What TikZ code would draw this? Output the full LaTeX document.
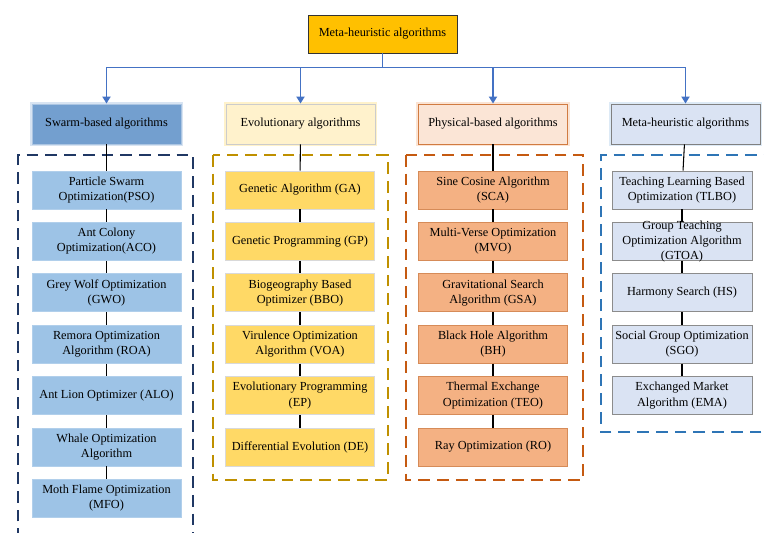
\documentclass[tikz,border=0pt]{standalone}
\usepackage{fontspec}
\setmainfont{Liberation Serif}
\usetikzlibrary{arrows.meta, positioning}
\definecolor{rootfill}{HTML}{FFC000}
\definecolor{busblue}{HTML}{4472C4}
\definecolor{swarmcat}{HTML}{739FCF}
\definecolor{swarmitem}{HTML}{9DC3E6}
\definecolor{swarmdash}{HTML}{203864}
\definecolor{evocat}{HTML}{FFF2CC}
\definecolor{evoitem}{HTML}{FFD966}
\definecolor{evodash}{HTML}{BF9000}
\definecolor{phycat}{HTML}{FBE5D6}
\definecolor{phyitem}{HTML}{F4B183}
\definecolor{phydash}{HTML}{C55A11}
\definecolor{metacat}{HTML}{DAE3F3}
\definecolor{metadash}{HTML}{2E75B6}
\tikzset{
  algbox/.style={rectangle, minimum width=4.47cm, minimum height=1.14cm,
                 align=center, inner sep=1pt, font=\fontsize{10.5}{13}\selectfont},
  rootbox/.style={algbox, fill=rootfill, draw=black!80, line width=0.8pt},
  catbox/.style={algbox, line width=0.8pt, minimum height=1.2cm,
                 preaction={draw=#1, line width=4pt, opacity=0.35}},
  swarmitembox/.style={algbox, fill=swarmitem, draw=swarmitem!80!white, line width=0.6pt},
  evoitembox/.style={algbox, fill=evoitem, draw=black!15, line width=0.6pt},
  phyitembox/.style={algbox, fill=phyitem, draw=phydash!70!white, line width=0.6pt},
  metaitembox/.style={algbox, fill=metacat, draw=black!45, line width=0.6pt,
                      minimum width=4.2cm},
  busarrow/.style={-{Triangle[length=6pt, width=7pt]}, busblue, line width=1.3pt},
  chainline/.style={black, line width=0.9pt},
  groupframe/.style={line width=1.5pt, dash pattern=on 10pt off 6pt},
}
\begin{document}
\begin{tikzpicture}[x=0.03cm, y=-0.03cm]
  \useasboundingbox (0,0) rectangle (764,532);
  % Wurzel
  \node[rootbox, minimum width=4.47cm] (root) at (382.5,34) {Meta-heuristic algorithms};
  % Gestrichelte Gruppen
  \draw[groupframe, swarmdash] (18,540) -- (18,155) -- (193,155) -- (193,540);
  \draw[groupframe, evodash] (213,155) rectangle (388,480);
  \draw[groupframe, phydash] (406,155) rectangle (583,480);
  \draw[groupframe, metadash] (780,432) -- (601,432) -- (601,155) -- (780,155);
  % Kategorien
  \node[catbox=swarmcat!80, fill=swarmcat, draw=swarmcat!60!white] (swarm) at (106.5,124) {Swarm-based algorithms};
  \node[catbox=evoitem, fill=evocat, draw=black!20] (evo) at (300.5,124) {Evolutionary algorithms};
  \node[catbox=phyitem, fill=phycat, draw=phydash!80!white] (phy) at (493,124) {Physical-based algorithms};
  \node[catbox=swarmitem, fill=metacat, draw=black!50] (meta) at (685.5,124) {Meta-heuristic algorithms};
  % Pfeile
  \foreach \c in {swarm, evo, phy, meta}
    \draw[busarrow] (root.south) -- ++(0,14) -| (\c.north);
  % Algorithmen
  \foreach \txt [count=\i] in {{Particle Swarm\\Optimization(PSO)}, {Ant Colony\\Optimization(ACO)},
      {Grey Wolf Optimization\\(GWO)}, {Remora Optimization\\Algorithm (ROA)},
      {Ant Lion Optimizer (ALO)}, {Whale Optimization\\Algorithm}, {Moth Flame Optimization\\(MFO)}}
    \node[swarmitembox] (swarm\i) at (106.5,{190+51.4*(\i-1)}) {\txt};
  \foreach \txt [count=\i] in {{Genetic Algorithm (GA)}, {Genetic Programming (GP)},
      {Biogeography Based\\Optimizer (BBO)}, {Virulence Optimization\\Algorithm (VOA)},
      {Evolutionary Programming\\(EP)}, {Differential Evolution (DE)}}
    \node[evoitembox] (evo\i) at (300,{190+51.4*(\i-1)}) {\txt};
  \foreach \txt [count=\i] in {{Sine Cosine Algorithm\\(SCA)}, {Multi-Verse Optimization\\(MVO)},
      {Gravitational Search\\Algorithm (GSA)}, {Black Hole Algorithm\\(BH)},
      {Thermal Exchange\\Optimization (TEO)}, {Ray Optimization (RO)}}
    \node[phyitembox] (phy\i) at (493,{190+51.4*(\i-1)}) {\txt};
  \foreach \txt [count=\i] in {{Teaching Learning Based\\Optimization (TLBO)},
      {Group Teaching\\Optimization Algorithm\\(GTOA)}, {Harmony Search (HS)},
      {Social Group Optimization\\(SGO)}, {Exchanged Market\\Algorithm (EMA)}}
    \node[metaitembox, inner ysep=-4pt] (meta\i) at (682,{190+51.4*(\i-1)}) {\txt};
  % Verbindungslinien
  \foreach \c/\n in {swarm/7, evo/6, phy/6, meta/5} {
    \draw[chainline] (\c) -- (\c1);
    \foreach \i [evaluate=\i as \j using int(\i-1)] in {2,...,\n}
      \draw[chainline] (\c\j) -- (\c\i);
  }
\end{tikzpicture}
\end{document}
